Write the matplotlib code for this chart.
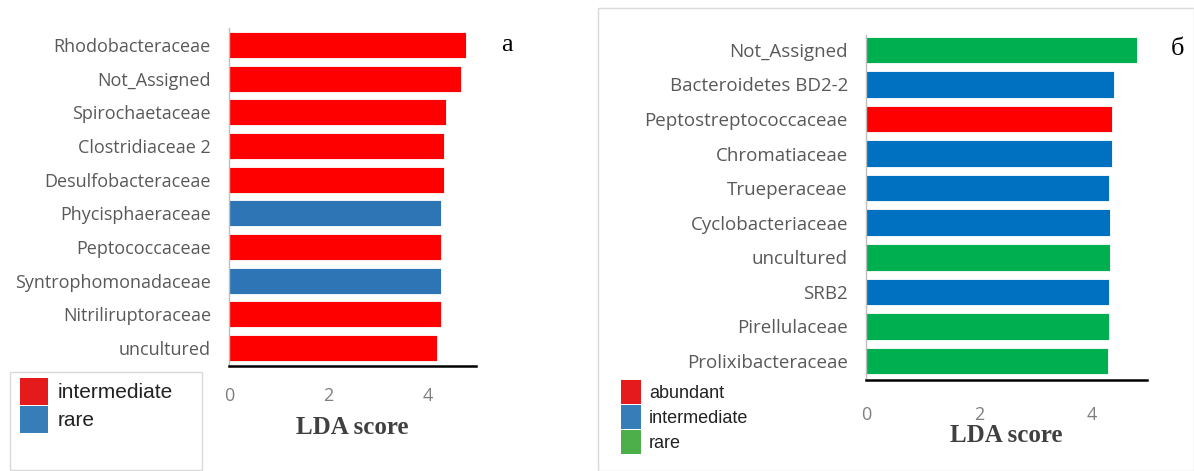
import matplotlib.pyplot as plt
from matplotlib.patches import Patch, Rectangle

# panel a
names_a = ["Rhodobacteraceae", "Not_Assigned", "Spirochaetaceae", "Clostridiaceae 2",
           "Desulfobacteraceae", "Phycisphaeraceae", "Peptococcaceae",
           "Syntrophomonadaceae", "Nitriliruptoraceae", "uncultured"]
lda_a = [4.76, 4.66, 4.36, 4.32, 4.32, 4.26, 4.26, 4.26, 4.26, 4.18]
group_a = ["intermediate", "intermediate", "intermediate", "intermediate", "intermediate",
           "rare", "intermediate", "rare", "intermediate", "intermediate"]

# panel б
names_b = ["Not_Assigned", "Bacteroidetes BD2-2", "Peptostreptococcaceae", "Chromatiaceae",
           "Trueperaceae", "Cyclobacteriaceae", "uncultured", "SRB2",
           "Pirellulaceae", "Prolixibacteraceae"]
lda_b = [4.80, 4.39, 4.35, 4.35, 4.30, 4.32, 4.32, 4.30, 4.30, 4.28]
group_b = ["rare", "intermediate", "abundant", "intermediate", "intermediate",
           "intermediate", "rare", "intermediate", "rare", "rare"]

ticks = [0, 2, 4]

bar_col_a = {"intermediate": "#FF0000", "rare": "#2E75B6"}
bar_col_b = {"abundant": "#FF0000", "intermediate": "#0070C0", "rare": "#00B050"}
leg_col_a = {"intermediate": "#E41A1C", "rare": "#377EB8"}
leg_col_b = {"abundant": "#E41A1C", "intermediate": "#377EB8", "rare": "#4DAF4A"}

W, H = 1194, 471
fig = plt.figure(figsize=(W / 100, H / 100), dpi=100)

def px_axes(l, t, r, b):
    return fig.add_axes([l / W, 1 - b / H, (r - l) / W, (b - t) / H])

def style(ax, names, vals, groups, cols, xmax, ylim, fs):
    ax.barh(range(len(names)), vals, height=0.77,
            color=[cols[g] for g in groups], edgecolor="white", linewidth=0.6)
    ax.set_ylim(*ylim)
    ax.set_xlim(0, xmax)
    ax.set_yticks(range(len(names)))
    ax.set_yticklabels(names, fontfamily="Open Sans", fontsize=fs, color="#595959")
    ax.set_xticks(ticks)
    ax.set_xticklabels([str(t) for t in ticks], fontfamily="Open Sans", fontsize=13, color="#7F7F7F")
    ax.tick_params(length=0)
    ax.tick_params(axis="y", pad=13)
    for s in ["top", "right"]:
        ax.spines[s].set_visible(False)
    ax.spines["left"].set_color("#BFBFBF")
    ax.spines["left"].set_linewidth(1)
    ax.spines["bottom"].set_color("black")
    ax.spines["bottom"].set_linewidth(1.8)
    ax.set_xlabel("LDA score", fontfamily="Liberation Serif", fontweight="bold",
                  fontsize=18, color="#404040")

ax1 = px_axes(229, 28, 476, 366)
style(ax1, names_a, lda_a, group_a, bar_col_a, 4.96, (9.53, -0.5), 13)
ax1.tick_params(axis="x", pad=15)
ax1.xaxis.labelpad = 8

ax2 = px_axes(866, 35, 1147, 380)
style(ax2, names_b, lda_b, group_b, bar_col_b, 4.97, (9.55, -0.43), 13.5)
ax2.tick_params(axis="x", pad=19)
ax2.xaxis.labelpad = 0

# panel letters
fig.text(507 / W, 1 - 45 / H, "a", fontfamily="Liberation Serif", fontsize=19,
         ha="center", va="center")
fig.text(1177 / W, 1 - 49 / H, "б", fontfamily="Liberation Serif", fontsize=19,
         ha="center", va="center")

# frame around panel б and legend box of panel a
fig.add_artist(Rectangle((598 / W, 0), (W - 598) / W, 1 - 8 / H, transform=fig.transFigure,
                         fill=False, edgecolor="#D9D9D9", linewidth=1))
fig.add_artist(Rectangle((10 / W, 1 - 470 / H), 192 / W, 98 / H, transform=fig.transFigure,
                         fill=False, edgecolor="#D9D9D9", linewidth=1))

def legend(groups, cols, x, y, fs, hl, hh):
    handles = [Patch(facecolor=cols[g], edgecolor="none", label=g) for g in groups]
    fig.legend(handles=handles, loc="upper left", bbox_to_anchor=(x / W, 1 - y / H),
               frameon=False, prop={"family": "Liberation Sans", "size": fs},
               handlelength=hl, handleheight=hh, handletextpad=0.45,
               labelspacing=0.05, borderpad=0, borderaxespad=0, labelcolor="#222222")

legend(["intermediate", "rare"], leg_col_a, 20, 378, 15, 1.35, 1.62)
legend(["abundant", "intermediate", "rare"], leg_col_b, 621, 380, 13, 1.1, 1.67)

fig.savefig("out.png", dpi=100)
